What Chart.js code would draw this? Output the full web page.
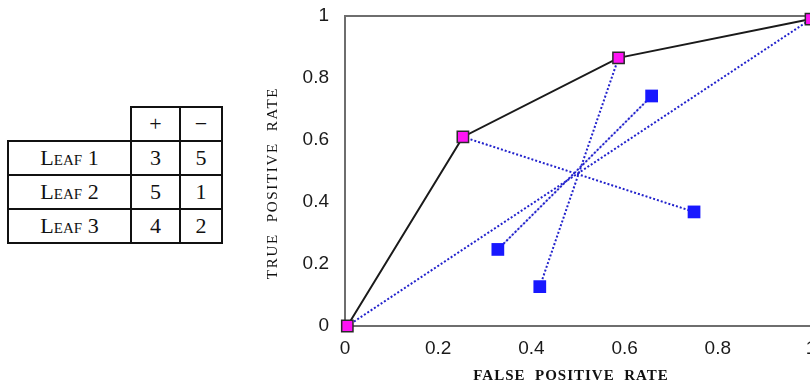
<!DOCTYPE html>
<html>
<head>
<meta charset="utf-8">
<script src="https://cdn.jsdelivr.net/npm/chart.js@4/dist/chart.umd.min.js"></script>
<style>
  html, body { margin: 0; padding: 0; background: #fff; width: 810px; height: 387px; overflow: hidden; }
  #leafTable {
    position: absolute; left: 7px; top: 106px;
    border-collapse: collapse; table-layout: fixed;
    font-family: "Liberation Serif", "Times New Roman", serif; font-size: 22px; color: #111;
  }
  #leafTable td { border: 2px solid #111; text-align: center; padding: 0; height: 32px; }
  #leafTable td.blank { border: none; }
  #leafTable td.name { font-variant: small-caps; }
  #roc { position: absolute; left: 240px; top: 0; }
</style>
</head>
<body>
<table id="leafTable">
  <colgroup><col style="width:123px"><col style="width:49px"><col style="width:42px"></colgroup>
  <tbody id="leafRows"></tbody>
</table>
<canvas id="roc" width="600" height="387"></canvas>
<script>
// table contents
const leafNames = ["Leaf 1", "Leaf 2", "Leaf 3"];
const posCounts = [3, 5, 4];
const negCounts = [5, 1, 2];

// ROC curve (magenta points, solid black line)
const rocFpr = [0.005, 0.253, 0.587, 1];
const rocTpr = [0, 0.61, 0.865, 0.99];

// other leaf orderings (blue points)
const leafFpr = [0.658, 0.328, 0.418, 0.749];
const leafTpr = [0.742, 0.247, 0.127, 0.368];

// dotted chords: [from, to] as {x, y}
const rocPt = i => ({ x: rocFpr[i], y: rocTpr[i] });
const leafPt = i => ({ x: leafFpr[i], y: leafTpr[i] });
const chords = [
  [rocPt(0), rocPt(3)],
  [rocPt(1), leafPt(3)],
  [rocPt(2), leafPt(2)],
  [leafPt(1), leafPt(0)]
];

const axisTicks = [0, 0.2, 0.4, 0.6, 0.8, 1];

// build the table
const tb = document.getElementById("leafRows");
tb.innerHTML = `<tr><td class="blank"></td><td>+</td><td>&minus;</td></tr>` +
  leafNames.map((n, i) => `<tr><td class="name">${n}</td><td>${posCounts[i]}</td><td>${negCounts[i]}</td></tr>`).join("");

const tickFont = { family: '"Liberation Sans", Arial, sans-serif', size: 19 };
const titleFont = { family: '"Liberation Serif", "Times New Roman", serif', size: 15 };
const frameColor = "#6e6e6e";
const dotBlue = "#2222cc";

// letter spacing + nudge for axis titles
const titleTweak = {
  x: { spacing: "1px", dx: -7, dy: 0 },
  y: { spacing: "1.7px", dx: 0, dy: 12 }
};
const spacedTitles = {
  id: "spacedTitles",
  beforeDraw(chart) {
    Object.keys(titleTweak).forEach(id => {
      const s = chart.scales[id];
      if (!s || s._spaced) return;
      const t = titleTweak[id];
      const orig = s.drawTitle.bind(s);
      s.drawTitle = () => {
        const c = s.ctx;
        c.save();
        c.letterSpacing = t.spacing;
        c.translate(t.dx, t.dy);
        orig();
        c.restore();
      };
      s._spaced = true;
    });
  }
};

const datasets = [
  {
    label: "ROC",
    data: rocFpr.map((x, i) => ({ x, y: rocTpr[i] })),
    showLine: true,
    borderColor: "#1a1a1a",
    borderWidth: 2,
    pointStyle: "rect",
    pointRadius: 8,
    pointBackgroundColor: "#ff14f4",
    pointBorderColor: "#2a2a2a",
    pointBorderWidth: 1.5,
    clip: false,
    order: 0
  },
  {
    label: "leaves",
    data: leafFpr.map((x, i) => ({ x, y: leafTpr[i] })),
    showLine: false,
    pointStyle: "rect",
    pointRadius: 9,
    pointBackgroundColor: "#1818ff",
    pointBorderColor: "#1818ff",
    pointBorderWidth: 0,
    order: 1
  },
  {
    label: "chord shade",
    data: chords[3],
    showLine: true,
    borderColor: "rgba(150,150,225,0.55)",
    borderWidth: 1.5,
    pointRadius: 0,
    order: 3
  }
].concat(chords.map((c, i) => ({
  label: "chord " + (i + 1),
  data: c,
  showLine: true,
  borderColor: dotBlue,
  borderWidth: 2,
  borderDash: [2, 2],
  pointRadius: 0,
  order: 2
})));

const tickText = v => String(+(+v).toFixed(2));

new Chart(document.getElementById("roc"), {
  type: "scatter",
  data: { datasets },
  options: {
    responsive: false,
    animation: false,
    devicePixelRatio: 1,
    layout: { padding: { top: 16, right: 29, left: 0, bottom: 0 } },
    plugins: { legend: { display: false }, tooltip: { enabled: false } },
    scales: {
      x: {
        type: "linear", min: 0, max: 1,
        afterBuildTicks: s => { s.ticks = axisTicks.map(v => ({ value: v })); },
        afterFit: s => { s.height = 61; s.paddingRight = 0; },
        ticks: { font: tickFont, color: "#1a1a1a", padding: 11, callback: tickText },
        grid: { drawTicks: false, lineWidth: 2, color: c => c.tick && c.tick.value === 1 ? frameColor : "transparent" },
        border: { color: frameColor, width: 2 },
        title: { display: true, text: "FALSE  POSITIVE  RATE", color: "#111",
                 font: Object.assign({ weight: "bold" }, titleFont), padding: { top: 0, bottom: 2 } }
      },
      y: {
        type: "linear", min: 0, max: 1,
        afterBuildTicks: s => { s.ticks = axisTicks.map(v => ({ value: v })); },
        afterFit: s => { s.width = 105; s.paddingTop = 0; s.paddingBottom = 0; },
        ticks: { font: tickFont, color: "#1a1a1a", padding: 16, callback: tickText },
        grid: { drawTicks: false, lineWidth: 2, color: c => c.tick && c.tick.value === 1 ? frameColor : "transparent" },
        border: { color: frameColor, width: 2 },
        title: { display: true, text: "TRUE  POSITIVE  RATE", color: "#111",
                 font: titleFont, padding: { top: 24, bottom: 0 } }
      }
    }
  },
  plugins: [spacedTitles]
});
</script>
</body>
</html>
